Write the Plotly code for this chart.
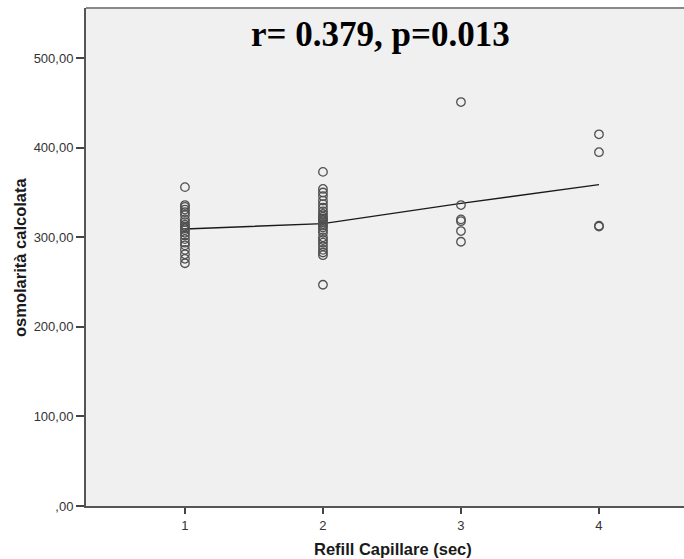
import plotly.graph_objects as go
import numpy as np

# Data (Refill Capillare in sec vs osmolarità calcolata)
refill_1 = [356, 336, 334, 331, 328, 325, 320, 317, 314, 312, 310, 308, 305, 302,
            298, 294, 291, 286, 281, 276, 271]
refill_2 = [373, 354, 350, 346, 341, 337, 333, 329, 326, 323, 321, 319, 317, 315,
            313, 311, 308, 305, 300, 297, 294, 290, 286, 283, 280, 247]
refill_3 = [451, 336, 320, 318, 307, 295]
refill_4 = [415, 395, 313, 312]

groups = [1, 2, 3, 4]
values = [refill_1, refill_2, refill_3, refill_4]

y_ticks = [0, 100, 200, 300, 400, 500]
y_tick_labels = [",00", "100,00", "200,00", "300,00", "400,00", "500,00"]
x_ticks = [1, 2, 3, 4]

xs = [g for g, vals in zip(groups, values) for _ in vals]
ys = [v for vals in values for v in vals]
means = [float(np.mean(v)) for v in values]

fig = go.Figure()
fig.add_trace(go.Scatter(
    x=groups, y=means, mode="lines",
    line=dict(color="#1a1a1a", width=1.4),
    hoverinfo="skip", showlegend=False))
fig.add_trace(go.Scatter(
    x=xs, y=ys, mode="markers",
    marker=dict(symbol="circle-open", size=8.5, color="#505050",
                line=dict(width=1.3, color="#505050")),
    showlegend=False))

fig.add_annotation(
    text="<b>r= 0.379, p=0.013</b>", xref="x", yref="y",
    x=2.42, y=526, showarrow=False,
    font=dict(family="Liberation Serif, DejaVu Serif, serif", size=35, color="#000"))

fig.add_annotation(
    text="<b>Refill Capillare (sec)</b>", xref="paper", yref="paper",
    x=0.5, y=-0.0863, showarrow=False, xanchor="center", yanchor="middle",
    font=dict(family="Liberation Sans, Arial, sans-serif", size=16.5, color="#1a1a1a"))
fig.add_annotation(
    text="<b>osmolarità calcolata</b>", xref="paper", yref="paper",
    x=-0.1075, y=0.5, showarrow=False, textangle=-90, xanchor="center", yanchor="middle",
    font=dict(family="Liberation Sans, Arial, sans-serif", size=16.5, color="#1a1a1a"))

fig.update_layout(
    width=700, height=559,
    margin=dict(l=86, r=0, t=8, b=53),
    paper_bgcolor="white", plot_bgcolor="#f0f0f0",
    font=dict(family="Liberation Sans, Arial, sans-serif", color="#333"),
)
fig.update_xaxes(
    range=[0.283, 4.732], tickvals=x_ticks, ticktext=[str(t) for t in x_ticks],
    ticks="outside", ticklen=6, tickcolor="#444", tickwidth=1.5,
    showgrid=False, zeroline=False,
    showline=True, linecolor="#555", linewidth=2,
    tickfont=dict(size=13, color="#333"),
)
fig.update_yaxes(
    range=[0, 556], tickvals=y_ticks, ticktext=y_tick_labels,
    ticks="outside", ticklen=8, tickcolor="#444", tickwidth=1.5,
    showgrid=False, zeroline=False,
    showline=True, linecolor="#555", linewidth=2,
    tickfont=dict(size=13, color="#333"),
)
# top frame line
fig.add_shape(type="line", xref="paper", yref="paper", x0=0, x1=1, y0=1, y1=1,
              line=dict(color="#888", width=2))

fig.write_html(
    "out.html",
    config={"displayModeBar": False},
    post_script="document.body.style.margin='0';"
                "document.body.style.overflow='hidden';"
                "document.documentElement.style.overflow='hidden';",
)
